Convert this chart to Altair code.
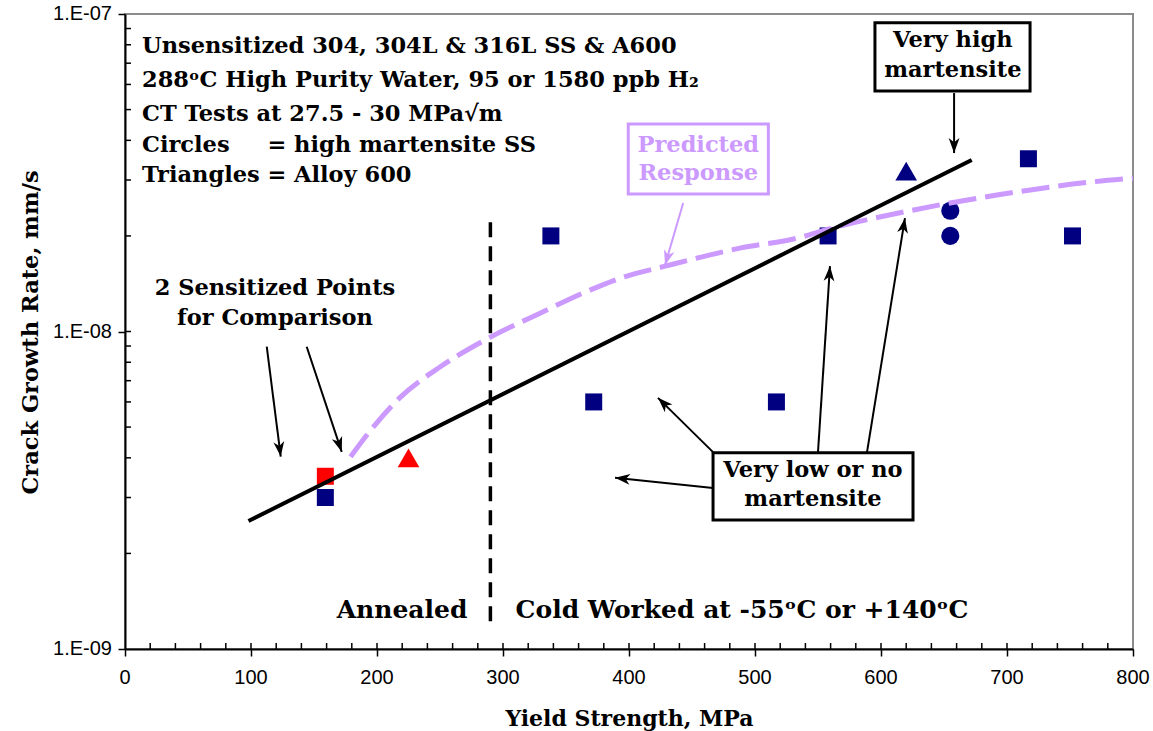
import math
import altair as alt
import pandas as pd

# ---------------- data ----------------
sq_x = [159, 338, 372, 517, 558, 717, 752]
sq_y = [3.0e-9, 2.0e-8, 6.0e-9, 6.0e-9, 2.0e-8, 3.5e-8, 2.0e-8]
sens_sq_x = [159]
sens_sq_y = [3.5e-9]
sens_tri_x = [225]
sens_tri_y = [4.0e-9]
a600_x = [620]
a600_y = [3.2e-8]
circ_x = [655, 655]
circ_y = [2.4e-8, 2.0e-8]
fit_x = [98, 672]
fit_y = [2.53e-9, 3.47e-8]
pred_x = [179, 197, 218, 250, 290, 329, 369, 397, 427, 488, 536, 558, 625, 692, 768, 800]
pred_y = [4.03e-9, 5.0e-9, 6.18e-9, 7.73e-9, 9.6e-9, 1.14e-8, 1.35e-8, 1.49e-8, 1.60e-8,
          1.83e-8, 1.98e-8, 2.10e-8, 2.41e-8, 2.69e-8, 2.96e-8, 3.04e-8]
divider_x = [290]
divider_y = [2.21e-8]
divider_y2 = [1.15e-9]

x_ticks = [0, 100, 200, 300, 400, 500, 600, 700, 800]
y_ticks = [1e-9, 1e-8, 1e-7]
x_tick_labels = ["0", "100", "200", "300", "400", "500", "600", "700", "800"]
y_tick_labels = ["1.E-09", "1.E-08", "1.E-07"]
x_minor = list(range(20, 800, 20))
y_minor = [k * 10.0 ** e for e in (-9, -8) for k in range(2, 10)] + [1e-8]

NAVY = "#000080"
RED = "#FF0000"
PURPLE = "#CC99FF"
SERIF = "DejaVu Serif"
SANS = "Liberation Sans"
LS = 20  # tick label size

# annotation text (x in MPa, log10 of y)
TS = 22.5
txt_left = [
    (13.5, -7.122, "Unsensitized 304, 304L & 316L SS & A600", TS, "black"),
    (13.5, -7.231, "288\u1d52C High Purity Water, 95 or 1580 ppb H\u2082", TS, "black"),
    (13.5, -7.336, "CT Tests at 27.5 - 30 MPa\u221am", TS, "black"),
    (13.5, -7.434, "Circles", TS, "black"),
    (113, -7.434, "= high martensite SS", TS, "black"),
    (13.5, -7.528, "Triangles", TS, "black"),
    (113, -7.528, "= Alloy 600", TS, "black"),
    (168, -8.902, "Annealed", 25, "black"),
    (310, -8.902, "Cold Worked at -55\u1d52C or +140\u1d52C", 25, "black"),
]
txt_center = [
    (119, -7.885, "2 Sensitized Points", TS, "black"),
    (119, -7.980, "for Comparison", TS, "black"),
    (657, -7.103, "Very high", TS, "black"),
    (657, -7.1975, "martensite", TS, "black"),
    (455, -7.4337, "Predicted", TS, PURPLE),
    (455, -7.5228, "Response", TS, PURPLE),
    (546, -8.4573, "Very low or no", TS, "black"),
    (546, -8.5496, "martensite", TS, "black"),
]
boxes = [
    (595.2, 718.3, -7.0274, -7.2425, "black"),
    (399.4, 510.6, -7.3465, -7.567, PURPLE),
    (466.7, 625.4, -8.3817, -8.5937, "black"),
]
arrows = [  # tail x, tail log y, head x, head log y, colour
    (658, -7.249, 658, -7.438, "black"),
    (112.5, -8.048, 123.6, -8.394, "black"),
    (144.2, -8.048, 172.0, -8.379, "black"),
    (443, -7.595, 428.6, -7.791, PURPLE),
    (466.7, -8.380, 423.0, -8.209, "black"),
    (466.7, -8.493, 388.9, -8.461, "black"),
    (550.0, -8.380, 559.5, -7.794, "black"),
    (588.9, -8.380, 619.0, -7.643, "black"),
]

# ---------------- layout ----------------
W, H = 1008, 635
XMAX = 800
LMIN, LMAX = -9, -7


def to_px(x, ly):
    return x * W / XMAX, (LMAX - ly) * H / (LMAX - LMIN)


xs = alt.Scale(domain=[0, XMAX], nice=False, zero=False)
ys = alt.Scale(type="log", domain=[1e-9, 1e-7], nice=False)

x_axis = alt.Axis(
    values=x_ticks, title="Yield Strength, MPa", grid=False, labels=False,
    titleFont=SERIF, titleFontSize=22, titleFontWeight="bold", titleColor="black",
    titleX=W / 2, titleY=76, titleAlign="center", titleBaseline="alphabetic",
    tickSize=7, tickColor="black", tickWidth=1.5,
    domainColor="black", domainWidth=2,
)
y_axis = alt.Axis(
    values=y_ticks, title="Crack Growth Rate, mm/s", grid=False, labels=False,
    titleFont=SERIF, titleFontSize=22.5, titleFontWeight="bold", titleColor="black",
    titleX=-88, titleY=318, titleAlign="center", titleBaseline="alphabetic", titleAngle=270,
    tickSize=7, tickColor="black", tickWidth=1.5,
    domainColor="black", domainWidth=2,
)


def X(field):
    return alt.X(field, scale=xs, axis=x_axis)


def Y(field):
    return alt.Y(field, scale=ys, axis=y_axis)


# points table
pts = pd.DataFrame(
    [(x, y, "square", NAVY) for x, y in zip(sq_x, sq_y)]
    + [(x, y, "square", RED) for x, y in zip(sens_sq_x, sens_sq_y)]
    + [(x, y, "triangle-up", RED) for x, y in zip(sens_tri_x, sens_tri_y)]
    + [(x, y, "triangle-up", NAVY) for x, y in zip(a600_x, a600_y)]
    + [(x, y, "circle", NAVY) for x, y in zip(circ_x, circ_y)],
    columns=["x", "y", "shape", "color"],
)
pts["size"] = pts["shape"].map({"square": 289, "triangle-up": 470, "circle": 330})

points = alt.Chart(pts).mark_point(filled=True, opacity=1, strokeWidth=0).encode(
    x=X("x:Q"), y=Y("y:Q"),
    shape=alt.Shape("shape:N", scale=None),
    color=alt.Color("color:N", scale=None),
    size=alt.Size("size:Q", scale=None),
)

# tick labels drawn as text marks placed by the axis scales
xlab = alt.Chart(pd.DataFrame({"x": x_ticks, "t": x_tick_labels})).mark_text(
    font=SANS, fontSize=LS, baseline="top", align="center", dy=0, color="black"
).encode(x=X("x:Q"), y=alt.value(H + 19), text="t:N")
ylab = alt.Chart(pd.DataFrame({"y": y_ticks, "t": y_tick_labels})).mark_text(
    font=SANS, fontSize=LS, baseline="middle", align="right", color="black"
).encode(y=Y("y:Q"), x=alt.value(-13), text="t:N")

pred = alt.Chart(pd.DataFrame({"x": pred_x, "y": pred_y})).mark_line(
    color=PURPLE, strokeWidth=5, strokeDash=[28, 9], interpolate="monotone"
).encode(x=X("x:Q"), y=Y("y:Q"))

fit = alt.Chart(pd.DataFrame({"x": fit_x, "y": fit_y})).mark_line(
    color="black", strokeWidth=4
).encode(x=X("x:Q"), y=Y("y:Q"))

divider = alt.Chart(pd.DataFrame({"x": divider_x, "y": divider_y, "y2": divider_y2})).mark_rule(
    color="black", strokeWidth=3.5, strokeDash=[15, 9]
).encode(x=X("x:Q"), y=Y("y:Q"), y2="y2:Q")

xminor = alt.Chart(pd.DataFrame({"x": x_minor})).mark_rule(color="black", strokeWidth=1.5).encode(
    x=X("x:Q"), y=alt.value(H), y2=alt.value(H - 6)
)
yminor = alt.Chart(pd.DataFrame({"y": y_minor})).mark_rule(color="black", strokeWidth=1.5).encode(
    y=Y("y:Q"), x=alt.value(0), x2=alt.value(6)
)

box_df = pd.DataFrame(
    [(x1, x2, 10 ** a, 10 ** b, c) for x1, x2, a, b, c in boxes],
    columns=["x", "x2", "y", "y2", "color"],
)
box_layer = alt.Chart(box_df).mark_rect(fill="white", strokeWidth=3).encode(
    x=X("x:Q"), x2="x2:Q", y=Y("y:Q"), y2="y2:Q",
    stroke=alt.Stroke("color:N", scale=None),
)

arr_rows = []
for tx, tly, hx, hly, c in arrows:
    px0, py0 = to_px(tx, tly)
    px1, py1 = to_px(hx, hly)
    ang = math.degrees(math.atan2(px1 - px0, -(py1 - py0))) % 360
    arr_rows.append((tx, 10 ** tly, hx, 10 ** hly, c, ang))
arr_df = pd.DataFrame(arr_rows, columns=["x", "y", "x2", "y2", "color", "angle"])

arr_lines = alt.Chart(arr_df).mark_rule(strokeWidth=2).encode(
    x=X("x:Q"), x2="x2:Q", y=Y("y:Q"), y2="y2:Q",
    color=alt.Color("color:N", scale=None),
)
arr_heads = alt.Chart(arr_df).mark_point(
    shape="M0,0 L-0.36,1 L0,0.72 L0.36,1 Z", filled=True, opacity=1, size=900, strokeWidth=0
).encode(
    x=X("x2:Q"), y=Y("y2:Q"),
    angle=alt.Angle("angle:Q", scale=None),
    color=alt.Color("color:N", scale=None),
)


def text_layer(rows, align):
    df = pd.DataFrame(
        [(x, 10 ** ly, t, s, c) for x, ly, t, s, c in rows],
        columns=["x", "y", "text", "size", "color"],
    )
    return alt.Chart(df).mark_text(
        font=SERIF, fontWeight="bold", align=align, baseline="alphabetic"
    ).encode(
        x=X("x:Q"), y=Y("y:Q"),
        text="text:N",
        size=alt.Size("size:Q", scale=None),
        color=alt.Color("color:N", scale=None),
    )


chart = alt.layer(
    points, xminor, yminor, divider, pred, fit, box_layer, arr_lines, arr_heads,
    text_layer(txt_left, "left"), text_layer(txt_center, "center"), xlab, ylab,
).properties(
    width=W, height=H,
    autosize=alt.AutoSizeParams(type="none"),
    padding={"left": 125, "top": 14, "right": 20, "bottom": 82},
    background="white",
).configure_view(
    stroke="#8c8c8c", strokeWidth=2, clip=False
)

chart.save("out.html", embed_options={"renderer": "svg", "actions": False})
